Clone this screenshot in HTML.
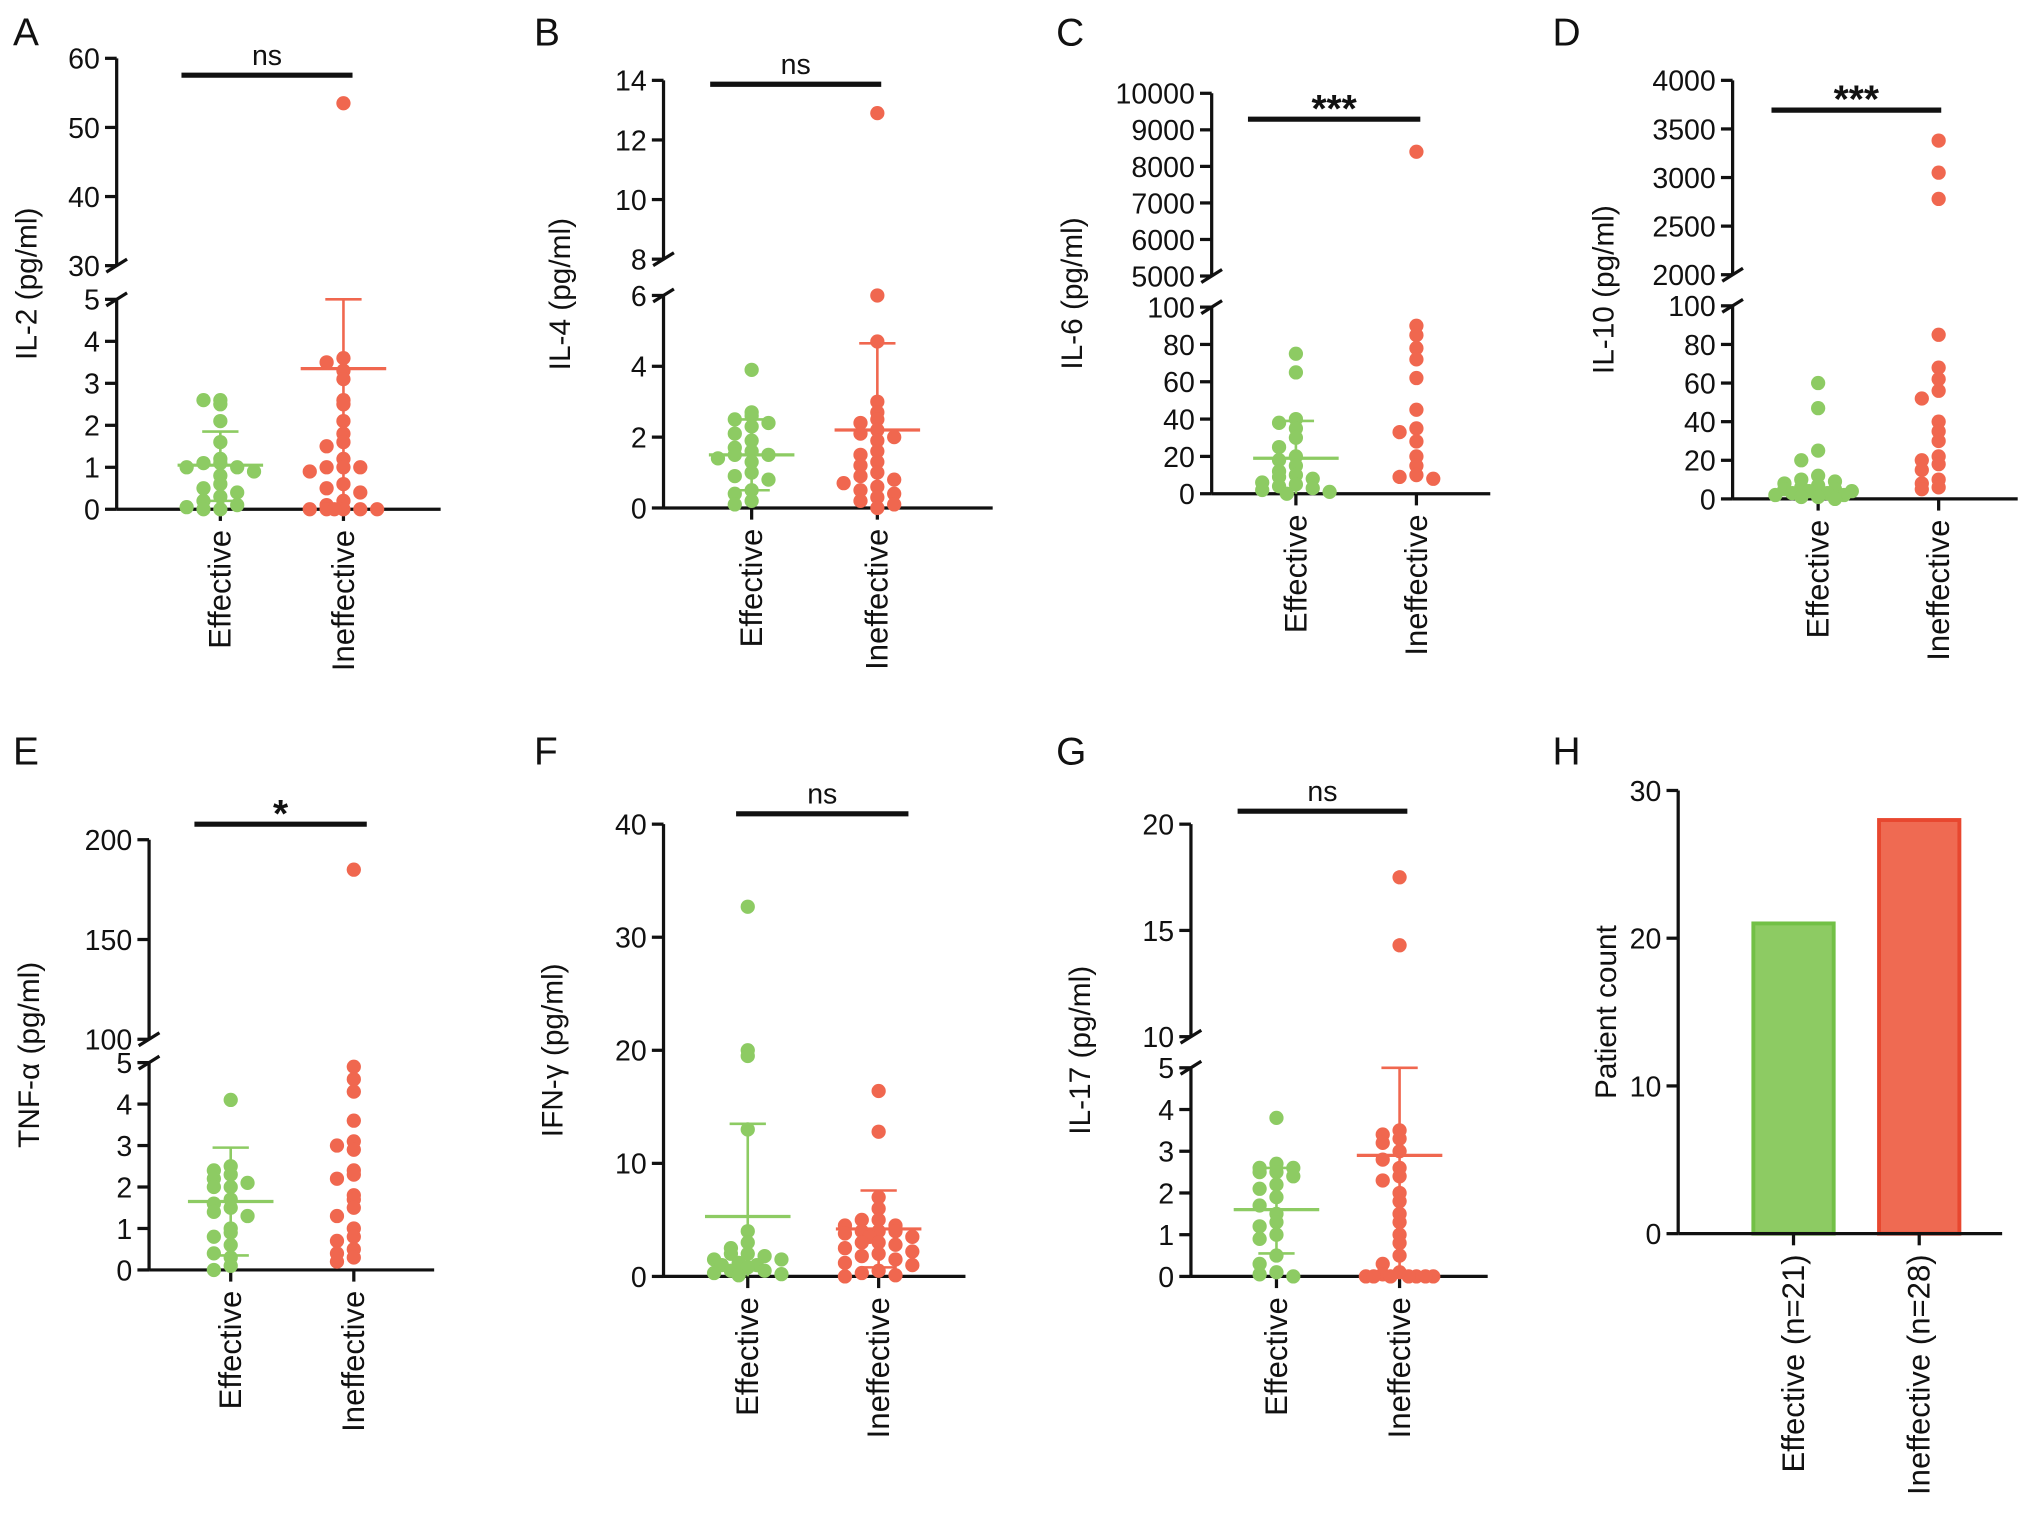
<!DOCTYPE html>
<html><head><meta charset="utf-8"><style>
html,body{margin:0;padding:0;background:#fff}
svg{display:block}
text{font-family:"Liberation Sans",Arial,sans-serif;fill:#111}
</style></head><body>
<svg id="fig" width="2032" height="1533" viewBox="0 0 1568 1183" xmlns="http://www.w3.org/2000/svg"></svg>
<script>
// ---- data ----
const groupLabels = ["Effective","Ineffective"];
const aEff = [2.6,2.6,2.5,2.1,1.6,1.2,1.1,1.1,1.0,1.0,0.9,0.8,0.6,0.5,0.4,0.3,0.2,0.1,0.05,0,0];
const aIneff = [53.5,3.6,3.5,3.3,3.1,2.6,2.5,2.1,1.8,1.6,1.5,1.2,1.0,1.0,1.0,0.9,0.6,0.5,0.4,0.2,0.1,0,0,0,0,0,0];
const aStats = [[1.05,0.2,1.85],[3.35,0,5]];
const bEff = [3.9,2.7,2.6,2.5,2.4,2.3,2.1,1.9,1.7,1.6,1.5,1.5,1.4,1.3,1.0,0.9,0.8,0.5,0.4,0.2,0.1];
const bIneff = [12.9,6.0,4.7,3.0,2.7,2.5,2.4,2.2,2.1,2.0,1.9,1.6,1.5,1.3,1.2,1.0,0.9,0.8,0.7,0.6,0.5,0.4,0.3,0.2,0.1,0];
const bStats = [[1.5,0.5,2.5],[2.2,0,4.65]];
const cEff = [75,65,40,38,35,30,25,20,18,15,12,10,9,8,6,5,4,3,2,1,0];
const cIneff = [8400,90,85,78,72,62,45,35,33,28,20,15,10,9,8];
const cStats = [[19,0,39],null];
const dEff = [60,47,25,20,12,10,9,8,7,6,5,5,4,4,3,3,2,2,1,1,0];
const dIneff = [3380,3050,2780,85,68,62,56,52,40,35,30,22,20,18,15,10,8,6,5];
const dStats = [null,null];
const eEff = [4.1,2.5,2.4,2.3,2.2,2.1,2.0,2.0,1.7,1.6,1.5,1.4,1.3,1.0,0.9,0.8,0.6,0.4,0.3,0.1,0];
const eIneff = [185,4.9,4.6,4.3,3.6,3.1,3.0,2.9,2.4,2.3,2.2,1.8,1.7,1.5,1.3,1.0,0.8,0.7,0.5,0.4,0.3,0.2];
const eStats = [[1.65,0.35,2.95],null];
const fEff = [32.7,20,19.5,13,4,3,2.5,2,2,1.8,1.5,1.5,1.2,1,1,0.8,0.5,0.5,0.3,0.2,0.1];
const fIneff = [16.4,12.8,7,6,5,5,4.5,4.5,4,4,4,3.8,3.5,3.5,3,3,2.8,2.5,2.2,2,1.8,1.5,1.2,1,0.5,0.3,0.1,0];
const fStats = [[5.3,0,13.5],[4.2,0.8,7.6]];
const gEff = [3.8,2.7,2.6,2.6,2.5,2.5,2.4,2.2,2.1,1.9,1.7,1.5,1.3,1.2,1.0,0.9,0.5,0.3,0.1,0.05,0];
const gIneff = [17.5,14.3,3.5,3.4,3.3,3.2,3.0,2.8,2.6,2.4,2.3,2.0,1.8,1.5,1.3,1.0,0.8,0.5,0.3,0.1,0.05,0,0,0,0,0,0,0];
const gStats = [[1.6,0.55,2.6],[2.9,0,5]];
const hCategories = ["Effective (n=21)","Ineffective (n=28)"];
const hCounts = [21,28];
const hTicks = [0,10,20,30];

const GREEN="#8dcb63", RED="#f0674f";
const svg=document.getElementById('fig');
const NS="http://www.w3.org/2000/svg";
function mk(tag,attrs,parent,txt){const e=document.createElementNS(NS,tag);for(const k in attrs)e.setAttribute(k,attrs[k]);if(txt!==undefined)e.textContent=txt;(parent||svg).appendChild(e);return e;}

const panels=[
 {id:'a',letter:'A',lx:10,ly:35,title:'IL-2 (pg/ml)',tOff:62,ax:90,xEnd:340,cx:[170,265],eff:aEff,ineff:aIneff,stats:aStats,
  lo:{min:0,max:5,y0:393,y1:231,ticks:[0,1,2,3,4,5]},hi:{min:30,max:60,y0:205,y1:45,ticks:[30,40,50,60]},sig:{y:58,x1:140,x2:272,t:'ns'}},
 {id:'b',letter:'B',lx:412,ly:35,title:'IL-4 (pg/ml)',tOff:72,ax:512,xEnd:766,cx:[580,677],eff:bEff,ineff:bIneff,stats:bStats,
  lo:{min:0,max:6,y0:392,y1:228,ticks:[0,2,4,6]},hi:{min:8,max:14,y0:200,y1:62,ticks:[8,10,12,14]},sig:{y:65,x1:548,x2:680,t:'ns'}},
 {id:'c',letter:'C',lx:815,ly:35,title:'IL-6 (pg/ml)',tOff:100,ax:935,xEnd:1150,cx:[1000,1093],eff:cEff,ineff:cIneff,stats:cStats,
  lo:{min:0,max:100,y0:381,y1:237,ticks:[0,20,40,60,80,100]},hi:{min:5000,max:10000,y0:213,y1:72,ticks:[5000,6000,7000,8000,9000,10000]},sig:{y:92,x1:963,x2:1096,t:'***'}},
 {id:'d',letter:'D',lx:1198,ly:35,title:'IL-10 (pg/ml)',tOff:92,ax:1337,xEnd:1557,cx:[1403,1496],eff:dEff,ineff:dIneff,stats:dStats,
  lo:{min:0,max:100,y0:385,y1:236,ticks:[0,20,40,60,80,100]},hi:{min:2000,max:4000,y0:212,y1:62,ticks:[2000,2500,3000,3500,4000]},sig:{y:85,x1:1367,x2:1498,t:'***'}},
 {id:'e',letter:'E',lx:10,ly:590,title:'TNF-α (pg/ml)',tOff:85,ax:115,xEnd:335,cx:[178,273],eff:eEff,ineff:eIneff,stats:eStats,
  lo:{min:0,max:5,y0:980,y1:820,ticks:[0,1,2,3,4,5]},hi:{min:100,max:200,y0:802,y1:648,ticks:[100,150,200]},sig:{y:636,x1:150,x2:283,t:'*'}},
 {id:'f',letter:'F',lx:412,ly:590,title:'IFN-γ (pg/ml)',tOff:78,ax:512,xEnd:745,cx:[577,678],eff:fEff,ineff:fIneff,stats:fStats,
  lo:{min:0,max:40,y0:985,y1:636,ticks:[0,10,20,30,40]},hi:null,sig:{y:628,x1:568,x2:701,t:'ns'}},
 {id:'g',letter:'G',lx:815,ly:590,title:'IL-17 (pg/ml)',tOff:78,ax:919,xEnd:1148,cx:[985,1080],eff:gEff,ineff:gIneff,stats:gStats,
  lo:{min:0,max:5,y0:985,y1:824,ticks:[0,1,2,3,4,5]},hi:{min:10,max:20,y0:800,y1:636,ticks:[10,15,20]},sig:{y:626,x1:955,x2:1086,t:'ns'}}
];

function yScale(p,v){
  const L=p.lo;
  if(!p.hi||v<=L.max){const c=Math.max(L.min,Math.min(v,L.max));return L.y0+(c-L.min)/(L.max-L.min)*(L.y1-L.y0);}
  const H=p.hi;const c=Math.max(H.min,Math.min(v,H.max));return H.y0+(c-H.min)/(H.max-H.min)*(H.y1-H.y0);
}
const jit=[0,-13,13,-26,26,-7,7,-20,20,-33,33];

panels.forEach(p=>{
  const g=mk('g',{});
  
  
  const L=mk('text',{x:p.lx,y:p.ly,'font-size':30},g,p.letter);
  
  
  const segs=[p.lo].concat(p.hi?[p.hi]:[]);
  segs.forEach((s,si)=>{
    const ln=mk('line',{x1:p.ax,x2:p.ax,y1:s.y0,y2:s.y1,stroke:'#111','stroke-width':2.5},g);
    
    
    s.ticks.forEach(t=>{
      const y=s.y0+(t-s.min)/(s.max-s.min)*(s.y1-s.y0);
      mk('line',{x1:p.ax-9,x2:p.ax,y1:y,y2:y,stroke:'#111','stroke-width':2.5},g);
      const tl=mk('text',{x:p.ax-13,y:y+8,'font-size':22,'text-anchor':'end'},g,String(t));
      
      
    });
  });
  if(p.hi){
    [p.lo.y1,p.hi.y0].forEach(y=>{mk('line',{x1:p.ax-8,y1:y+5,x2:p.ax+8,y2:y-5,stroke:'#111','stroke-width':2.5},g);});
  }
  const xa=mk('line',{x1:p.ax,x2:p.xEnd,y1:p.lo.y0,y2:p.lo.y0,stroke:'#111','stroke-width':2.5},g);
  
  
  const ym=(p.lo.y0+(p.hi?p.hi.y1:p.lo.y1))/2;
  const yt=mk('text',{x:0,y:0,'font-size':23,'text-anchor':'middle',transform:`translate(${p.ax-p.tOff},${ym}) rotate(-90)`},g,p.title);
  
  
  [p.eff,p.ineff].forEach((arr,gi)=>{
    const col=gi?RED:GREEN, cx=p.cx[gi];
    mk('line',{x1:cx,x2:cx,y1:p.lo.y0,y2:p.lo.y0+9,stroke:'#111','stroke-width':2.5},g);
    const xl=mk('text',{x:0,y:0,'font-size':24,'text-anchor':'end',transform:`translate(${cx+8},${p.lo.y0+16}) rotate(-90)`},g,groupLabels[gi]);
    
    
    const st=p.stats[gi];
    if(st){
      mk('line',{x1:cx,x2:cx,y1:yScale(p,st[1]),y2:yScale(p,st[2]),stroke:col,'stroke-width':2},g);
      mk('line',{x1:cx-14,x2:cx+14,y1:yScale(p,st[2]),y2:yScale(p,st[2]),stroke:col,'stroke-width':2},g);
      if(st[1]>0)mk('line',{x1:cx-14,x2:cx+14,y1:yScale(p,st[1]),y2:yScale(p,st[1]),stroke:col,'stroke-width':2},g);
      const m=mk('line',{x1:cx-33,x2:cx+33,y1:yScale(p,st[0]),y2:yScale(p,st[0]),stroke:col,'stroke-width':2.5},g);
      
      
    }
    const bins={};
    arr.forEach(v=>{
      const y=yScale(p,v);const b=Math.round(y/9);bins[b]=(bins[b]||0);const k=bins[b]++;
      const c=mk('circle',{cx:cx+jit[k%jit.length],cy:y,r:5.5,fill:col},g);
      
      
    });
  });
  const sb=mk('line',{x1:p.sig.x1,x2:p.sig.x2,y1:p.sig.y,y2:p.sig.y,stroke:'#111','stroke-width':4},g);
  
  
  const isStar=p.sig.t.indexOf('*')>=0;
  const stx=mk('text',{x:(p.sig.x1+p.sig.x2)/2,y:p.sig.y-(isStar?-2:8),'font-size':isStar?30:22,'font-weight':isStar?'bold':'normal','text-anchor':'middle'},g,p.sig.t);
  
  
});

// Panel H bar chart
(function(){
  const g=mk('g',{});
  
  
  const ax=1295,xEnd=1545,y0=952,y1=610,vmax=30,cx=[1384,1481],bw=62;
  const y=v=>y0+v/vmax*(y1-y0);
  const L=mk('text',{x:1198,y:590,'font-size':30},g,'H');
  
  
  mk('line',{x1:ax,x2:ax,y1:y0,y2:y1,stroke:'#111','stroke-width':2.5},g);
  hTicks.forEach(t=>{
    mk('line',{x1:ax-9,x2:ax,y1:y(t),y2:y(t),stroke:'#111','stroke-width':2.5},g);
    const tl=mk('text',{x:ax-13,y:y(t)+8,'font-size':22,'text-anchor':'end'},g,String(t));
    
    
  });
  const yt=mk('text',{x:0,y:0,'font-size':23,'text-anchor':'middle',transform:`translate(1247,${(y0+y1)/2}) rotate(-90)`},g,'Patient count');
  
  
  const fills=['#8dcb63','#ef6a52'],strokes=['#72c046','#e8472f'];
  hCounts.forEach((v,i)=>{
    const r=mk('rect',{x:cx[i]-bw/2,y:y(v),width:bw,height:y0-y(v),fill:fills[i],stroke:strokes[i],'stroke-width':3},g);
    
    
    mk('line',{x1:cx[i],x2:cx[i],y1:y0,y2:y0+9,stroke:'#111','stroke-width':2.5},g);
    const xl=mk('text',{x:0,y:0,'font-size':24,'text-anchor':'end',transform:`translate(${cx[i]+8},${y0+16}) rotate(-90)`},g,hCategories[i]);
    
    
  });
  const xa=mk('line',{x1:ax,x2:xEnd,y1:y0,y2:y0,stroke:'#111','stroke-width':2.5},g);
  
  
})();
</script>
</body></html>
